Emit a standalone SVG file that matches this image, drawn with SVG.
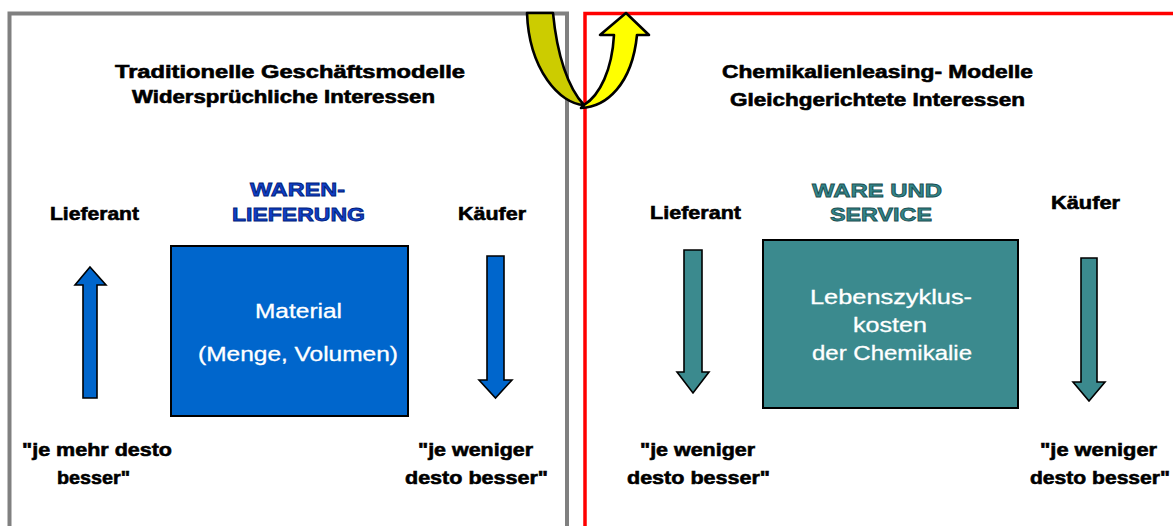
<svg xmlns="http://www.w3.org/2000/svg" width="1173" height="526" viewBox="0 0 1173 526">
<style>
.t{font-family:"Liberation Sans",Arial,sans-serif;font-weight:bold;fill:#000;stroke:#000;stroke-width:0.6}
.ti{font-size:18px}
.lb{font-size:19px}
.bx{font-family:"Liberation Sans",Arial,sans-serif;font-size:20px;fill:#fff;stroke:#fff;stroke-width:0.3}
.blue{fill:#1040C8;stroke:#001C78;stroke-width:0.8}
.teal{fill:#33868A;stroke:#1B4E50;stroke-width:0.8}
.arrB{fill:#0066CC;stroke:#000;stroke-width:1.6}
.arrT{fill:#3B8A8E;stroke:#000;stroke-width:1.6}
</style>
<rect width="1173" height="526" fill="#fff"/>
<g id="frames">
<rect x="9.5" y="13.5" width="557.5" height="600" fill="none" stroke="#808080" stroke-width="4"/>
<rect x="585" y="13.5" width="700" height="600" fill="none" stroke="#FF0000" stroke-width="3.5"/>
</g>
<g id="switch-arrow" stroke="#000" stroke-width="2.6" stroke-linejoin="round">
<path d="M527,13 L553,13 C557,55 568,88 584,105 C560,104 529,70 527,13 Z" fill="#CCCC00"/>
<path d="M581,108 C606,107 632,85 637,35 L649,35 L626,13 L600,35 L614,35 C612,70 600,95 584,105 Z" fill="#FFFF00"/>
</g>
<g id="left-titles">
<text class="t ti" x="115" y="78" textLength="350" lengthAdjust="spacingAndGlyphs">Traditionelle Geschäftsmodelle</text>
<text class="t ti" x="132" y="103" textLength="303" lengthAdjust="spacingAndGlyphs">Widersprüchliche Interessen</text>
</g>
<g id="right-titles">
<text class="t ti" x="722" y="78" textLength="311" lengthAdjust="spacingAndGlyphs">Chemikalienleasing- Modelle</text>
<text class="t ti" x="730" y="106" textLength="295" lengthAdjust="spacingAndGlyphs">Gleichgerichtete Interessen</text>
</g>
<g id="label-waren">
<text class="t lb blue" x="250" y="196" textLength="95" lengthAdjust="spacingAndGlyphs">WAREN-</text>
<text class="t lb blue" x="232" y="221" textLength="133" lengthAdjust="spacingAndGlyphs">LIEFERUNG</text>
</g>
<g id="label-service">
<text class="t lb teal" x="812" y="197" textLength="130" lengthAdjust="spacingAndGlyphs">WARE UND</text>
<text class="t lb teal" x="830" y="221" textLength="102" lengthAdjust="spacingAndGlyphs">SERVICE</text>
</g>
<g id="left-lieferant">
<text class="t lb" x="50" y="220" textLength="89" lengthAdjust="spacingAndGlyphs">Lieferant</text>
<polygon class="arrB" points="90,267 106,285 97,285 97,398 83,398 83,285 75,285"/>
<text class="t lb" x="22" y="456" textLength="150" lengthAdjust="spacingAndGlyphs">"je mehr desto</text>
<text class="t lb" x="57" y="484" textLength="73" lengthAdjust="spacingAndGlyphs">besser"</text>
</g>
<g id="left-kaeufer">
<text class="t lb" x="458" y="220" textLength="68" lengthAdjust="spacingAndGlyphs">Käufer</text>
<polygon class="arrB" points="487,256 504,256 504,380 512,380 495.5,398 479,380 487,380"/>
<text class="t lb" x="418" y="456" textLength="115" lengthAdjust="spacingAndGlyphs">"je weniger</text>
<text class="t lb" x="405" y="484" textLength="143" lengthAdjust="spacingAndGlyphs">desto besser"</text>
</g>
<g id="material-box">
<rect x="171" y="246" width="237" height="170" fill="#0066CC" stroke="#000" stroke-width="2"/>
<text class="bx" x="255" y="318" textLength="87" lengthAdjust="spacingAndGlyphs">Material</text>
<text class="bx" x="198" y="361" textLength="200" lengthAdjust="spacingAndGlyphs">(Menge, Volumen)</text>
</g>
<g id="right-lieferant">
<text class="t lb" x="650" y="219" textLength="91" lengthAdjust="spacingAndGlyphs">Lieferant</text>
<polygon class="arrT" points="684,250 702,250 702,372 709,372 693,393 677,372 684,372"/>
<text class="t lb" x="640" y="456" textLength="115" lengthAdjust="spacingAndGlyphs">"je weniger</text>
<text class="t lb" x="627" y="484" textLength="143" lengthAdjust="spacingAndGlyphs">desto besser"</text>
</g>
<g id="right-kaeufer">
<text class="t lb" x="1051" y="209" textLength="69" lengthAdjust="spacingAndGlyphs">Käufer</text>
<polygon class="arrT" points="1081,258 1097,258 1097,382 1105,382 1089,401 1073,382 1081,382"/>
<text class="t lb" x="1040" y="456" textLength="117" lengthAdjust="spacingAndGlyphs">"je weniger</text>
<text class="t lb" x="1030" y="484" textLength="140" lengthAdjust="spacingAndGlyphs">desto besser"</text>
</g>
<g id="lifecycle-box">
<rect x="763" y="240" width="255" height="168" fill="#3B8A8E" stroke="#000" stroke-width="2"/>
<text class="bx" x="810" y="304" textLength="162" lengthAdjust="spacingAndGlyphs">Lebenszyklus-</text>
<text class="bx" x="853" y="332" textLength="74" lengthAdjust="spacingAndGlyphs">kosten</text>
<text class="bx" x="812" y="360" textLength="160" lengthAdjust="spacingAndGlyphs">der Chemikalie</text>
</g>
<g id="connectors"></g>
</svg>
